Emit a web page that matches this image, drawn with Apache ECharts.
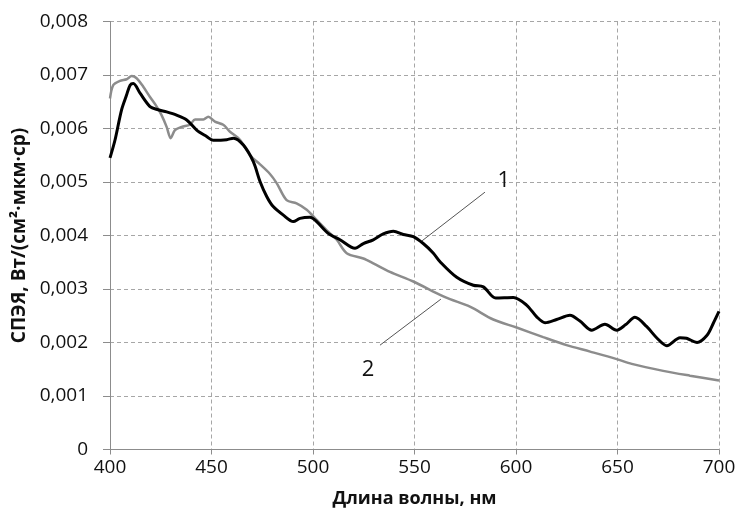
<!DOCTYPE html>
<html>
<head>
<meta charset="utf-8">
<script src="https://cdn.jsdelivr.net/npm/echarts@6/dist/echarts.min.js"></script>
<style>
html,body{margin:0;padding:0;background:#fff;}
#chart{width:736px;height:522px;}
</style>
</head>
<body>
<div id="chart"></div>
<script>
// Series 1 (black)
const wl1 = [400,402.5,405.7,408.2,409.9,411.5,414.8,419.7,423.7,427.9,432.8,437.8,442.7,447.6,450.8,457.5,460.8,465.7,470.6,473.9,477.2,480.4,485.4,490.3,493.6,498.5,501.8,507.5,513.3,520.7,524.8,529.7,534.6,539.6,544.5,549.4,554.3,559.3,562.6,570.8,579,583.9,590,598.7,605.2,610.2,614.3,620,626.6,631.5,637.3,643.8,649.6,653.9,658.6,664.3,669.5,674.3,680.8,684,689.2,694,697.2,700];
const val1 = [0.00545,0.00579,0.00635,0.00663,0.00681,0.00684,0.00666,0.00641,0.00635,0.00631,0.00625,0.00616,0.00597,0.00585,0.00578,0.00579,0.00582,0.00569,0.00538,0.00501,0.00473,0.00454,0.00438,0.00426,0.00432,0.00434,0.00426,0.00404,0.00392,0.00376,0.00385,0.00392,0.00403,0.00408,0.00402,0.00398,0.00385,0.00367,0.00351,0.00322,0.00307,0.00304,0.00283,0.00284,0.0027,0.00248,0.00237,0.00243,0.00251,0.0024,0.00223,0.00234,0.00223,0.00233,0.00247,0.0023,0.00208,0.00194,0.00209,0.00208,0.002,0.00213,0.00236,0.00258];
// Series 2 (gray)
const wl2 = [400,401.6,404.9,408.2,410.7,413.1,416.4,419.7,423,425.4,427.9,429.9,432,435.3,439.4,441.9,446,448.4,451.7,455.8,459.1,464,469,473.9,478.8,482.1,487,491.9,496.9,501.8,507.5,511.7,516.6,524.8,529.7,537.9,549.4,562.6,567.5,577.3,588.8,600.3,613.4,624.9,636.5,649.6,657,672.5,685.7,700];
const val2 = [0.00656,0.00681,0.00689,0.00692,0.00698,0.00694,0.00678,0.00659,0.00641,0.00625,0.00603,0.00582,0.00597,0.00603,0.00607,0.00617,0.00617,0.00622,0.00613,0.00607,0.00594,0.00579,0.0055,0.00533,0.00515,0.00498,0.00466,0.0046,0.00448,0.00429,0.00407,0.00392,0.00367,0.00357,0.00348,0.00332,0.00314,0.00289,0.00281,0.00267,0.00243,0.00228,0.0021,0.00195,0.00183,0.00169,0.0016,0.00147,0.00138,0.00129];
// Annotation leader lines (data coords): [free end, curve end]
const note1 = [[584.7,0.00481],[553.7,0.0039]];
const note2 = [[533,0.00195],[563,0.00281]];
const xTicks = [400,450,500,550,600,650,700];
const yTicks = [0,0.001,0.002,0.003,0.004,0.005,0.006,0.007,0.008];

const FONT = '"Open Sans", "Noto Sans", sans-serif';
const d1 = wl1.map((x,i)=>[x,val1[i]]);
const d2 = wl2.map((x,i)=>[x,val2[i]]);

function leader(pts, text, off){
  return {
    silent:true, symbol:['none','none'], animation:false,
    lineStyle:{color:'#555',width:1,type:'solid'},
    label:{show:true, position:'start', formatter:text, fontSize:22, color:'#111', fontFamily:FONT, offset:off},
    emphasis:{disabled:true},
    data:[[{coord:pts[0]},{coord:pts[1]}]]
  };
}

const chart = echarts.init(document.getElementById('chart'), null, {renderer:'canvas'});
chart.setOption({
  animation:false,
  backgroundColor:'#fff',
  grid:{left:110,right:17,top:21.5,bottom:72.5,containLabel:false,outerBoundsMode:'none'},
  xAxis:{
    type:'value', min:400, max:700, interval:50,
    name:'Длина волны, нм', nameLocation:'middle', nameGap:40,
    nameTextStyle:{fontFamily:FONT,fontSize:18,fontWeight:'bold',color:'#111'},
    axisLine:{show:true,lineStyle:{color:'#8c8c8c',width:1}},
    axisTick:{show:true,length:5,inside:false,lineStyle:{color:'#8c8c8c'}},
    axisLabel:{fontFamily:FONT,fontSize:19,color:'#111',margin:9,
      formatter:v=>xTicks.includes(v)?String(v):''},
    splitLine:{show:true,lineStyle:{color:'#a6a6a6',type:[4,3],width:1}}
  },
  yAxis:{
    type:'value', min:0, max:0.008, interval:0.001,
    name:'СПЭЯ, Вт/(см²·мкм·ср)', nameLocation:'middle', nameGap:77,
    nameTextStyle:{fontFamily:FONT,fontSize:19,fontWeight:'bold',color:'#111'},
    axisLine:{show:true,lineStyle:{color:'#8c8c8c',width:1}},
    axisTick:{show:true,length:7,inside:false,lineStyle:{color:'#8c8c8c'}},
    axisLabel:{fontFamily:FONT,fontSize:19,color:'#111',margin:22,
      formatter:v=>{const t=yTicks.find(k=>Math.abs(k-v)<1e-9);return t===0?'0':t.toFixed(3).replace('.',',');}},
    splitLine:{show:true,lineStyle:{color:'#a6a6a6',type:[4,3],width:1}}
  },
  series:[
    {type:'line', name:'2', data:d2, showSymbol:false, smooth:0.3,
      lineStyle:{color:'#8c8c8c',width:2.5}, itemStyle:{color:'#8c8c8c'},
      markLine:leader(note2,'2',[-8,22]), z:2},
    {type:'line', name:'1', data:d1, showSymbol:false, smooth:0.3,
      lineStyle:{color:'#000',width:3}, itemStyle:{color:'#000'},
      markLine:leader(note1,'1',[15,-8]), z:3}
  ]
});
</script>
</body>
</html>
